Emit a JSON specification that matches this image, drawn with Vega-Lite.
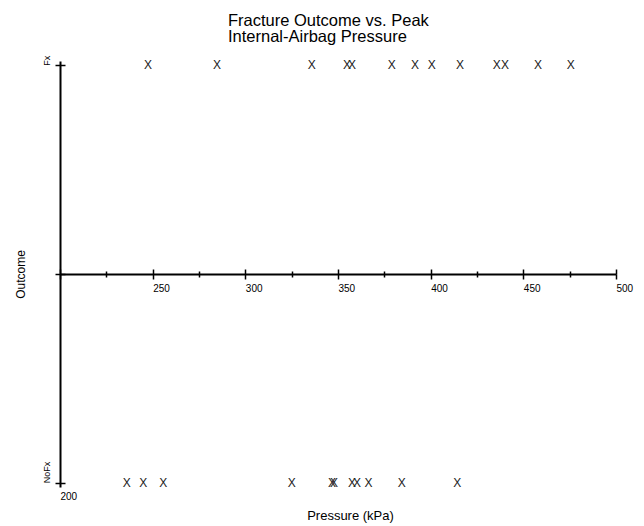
{
  "$schema": "https://vega.github.io/schema/vega-lite/v6.json",
  "width": 556,
  "height": 426,
  "autosize": "none",
  "padding": {"left": 60, "top": 61, "right": 28, "bottom": 39},
  "background": "white",
  "config": {
    "view": {"stroke": null},
    "font": "Liberation Sans",
    "axis": {
      "grid": false,
      "domainColor": "black",
      "tickColor": "black",
      "labelColor": "black",
      "titleColor": "black",
      "labelFont": "Liberation Sans",
      "titleFont": "Liberation Sans",
      "titleFontWeight": "normal",
      "labelFlush": false,
      "labelOverlap": false,
      "labelBound": false,
      "domainWidth": 2,
      "tickWidth": 1.5
    }
  },
  "title": {
    "text": ["Fracture Outcome vs. Peak", "Internal-Airbag Pressure"],
    "anchor": "start",
    "frame": "group",
    "dx": 168,
    "fontSize": 16.5,
    "fontWeight": "normal",
    "font": "Liberation Sans",
    "color": "black",
    "lineHeight": 15.5,
    "offset": 10
  },
  "data": {
    "values": [
      {"pressure": 247.5, "outcome": "Fx"},
      {"pressure": 284.7, "outcome": "Fx"},
      {"pressure": 335.8, "outcome": "Fx"},
      {"pressure": 354.9, "outcome": "Fx"},
      {"pressure": 357.6, "outcome": "Fx"},
      {"pressure": 379.0, "outcome": "Fx"},
      {"pressure": 391.5, "outcome": "Fx"},
      {"pressure": 400.6, "outcome": "Fx"},
      {"pressure": 415.8, "outcome": "Fx"},
      {"pressure": 435.6, "outcome": "Fx"},
      {"pressure": 440.1, "outcome": "Fx"},
      {"pressure": 457.9, "outcome": "Fx"},
      {"pressure": 475.6, "outcome": "Fx"},
      {"pressure": 236.0, "outcome": "NoFx"},
      {"pressure": 244.9, "outcome": "NoFx"},
      {"pressure": 255.7, "outcome": "NoFx"},
      {"pressure": 325.0, "outcome": "NoFx"},
      {"pressure": 346.8, "outcome": "NoFx"},
      {"pressure": 347.8, "outcome": "NoFx"},
      {"pressure": 357.6, "outcome": "NoFx"},
      {"pressure": 360.3, "outcome": "NoFx"},
      {"pressure": 366.4, "outcome": "NoFx"},
      {"pressure": 384.4, "outcome": "NoFx"},
      {"pressure": 414.4, "outcome": "NoFx"}
    ]
  },
  "resolve": {"axis": {"x": "independent", "y": "independent"}},
  "layer": [
    {
      "mark": {"type": "text", "text": "X", "fontSize": 12, "font": "Liberation Sans", "color": "#222222", "align": "center", "baseline": "middle"},
      "encoding": {
        "x": {
          "field": "pressure", "type": "quantitative",
          "scale": {"domain": [200, 500], "nice": false, "zero": false},
          "axis": {
            "orient": "bottom", "offset": -213,
            "values": [200, 225, 250, 275, 300, 325, 350, 375, 400, 425, 450, 475, 500],
            "tickSize": {"condition": {"test": "datum.value % 50 === 0", "value": 5}, "value": 3},
            "labelExpr": "datum.value % 50 === 0 && datum.value > 200 ? datum.label : ''",
            "labelAlign": "left", "labelPadding": 4, "labelFontSize": 10,
            "title": null
          }
        },
        "y": {
          "field": "outcome", "type": "ordinal",
          "scale": {"type": "point", "domain": ["Fx", "mid", "NoFx"], "padding": 0.02},
          "axis": {
            "orient": "left",
            "tickSize": 5,
            "labelExpr": "datum.value === 'mid' ? '' : datum.value",
            "labelAngle": -90, "labelAlign": "left", "labelBaseline": "alphabetic",
            "labelPadding": 6, "labelFontSize": 9,
            "title": "Outcome", "titleFontSize": 12, "titlePadding": 15
          }
        }
      }
    },
    {
      "mark": {"type": "text", "text": "X", "fontSize": 12, "opacity": 0},
      "encoding": {
        "x": {
          "field": "pressure", "type": "quantitative",
          "axis": {
            "orient": "bottom", "offset": -213,
            "values": [200, 225, 250, 275, 300, 325, 350, 375, 400, 425, 450, 475, 500],
            "tickSize": {"condition": {"test": "datum.value % 50 === 0", "value": -5}, "value": -3},
            "labels": false, "domain": false, "title": null
          }
        },
        "y": {
          "field": "outcome", "type": "ordinal",
          "axis": {
            "orient": "left", "tickSize": -5,
            "labels": false, "domain": false, "title": null
          }
        }
      }
    },
    {
      "mark": {"type": "text", "text": "X", "fontSize": 12, "opacity": 0},
      "encoding": {
        "x": {
          "field": "pressure", "type": "quantitative",
          "axis": {
            "orient": "bottom", "offset": 0,
            "values": [200],
            "ticks": false, "tickSize": 0, "domain": false,
            "labelAlign": "left", "labelPadding": 4, "labelFontSize": 10,
            "title": "Pressure (kPa)", "titleFontSize": 13, "titlePadding": 8, "titleX": 290
          }
        },
        "y": {"field": "outcome", "type": "ordinal", "axis": null}
      }
    }
  ]
}
